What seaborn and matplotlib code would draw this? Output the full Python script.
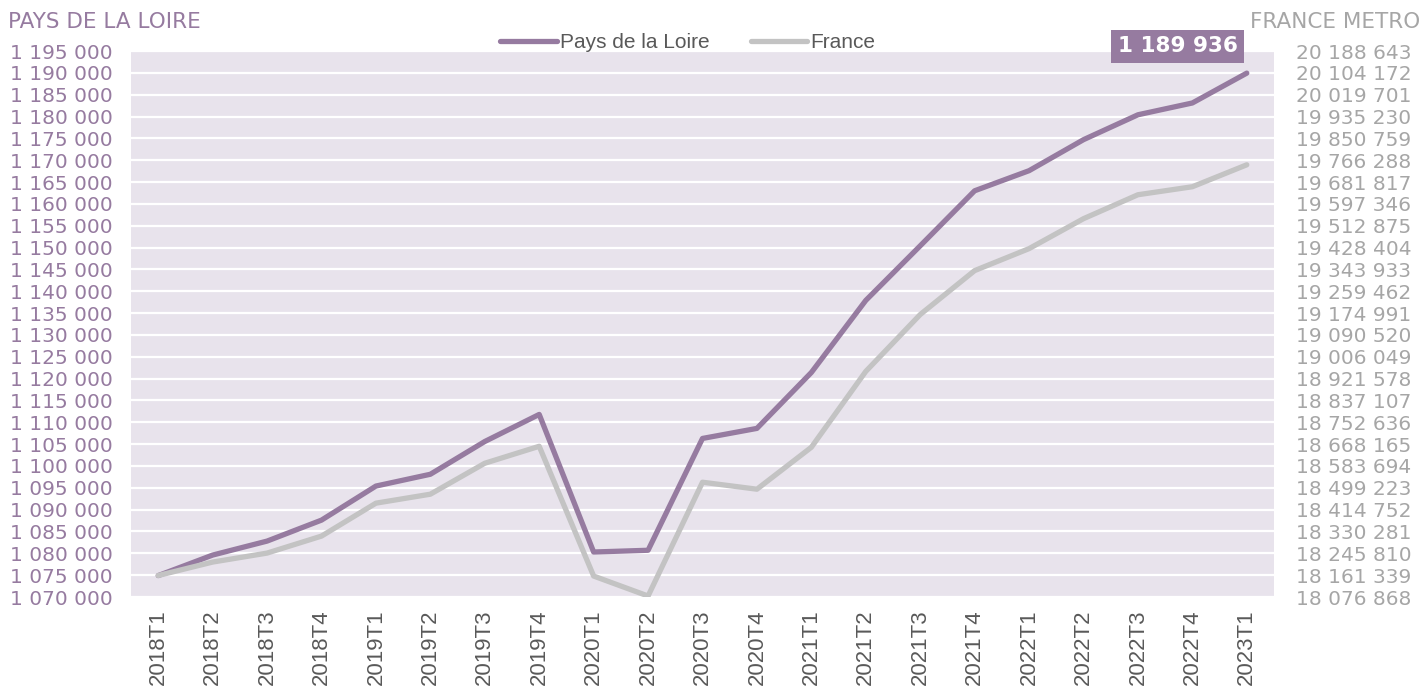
import numpy as np
import pandas as pd
import matplotlib
matplotlib.use('Agg')
import matplotlib.pyplot as plt
from matplotlib.ticker import FixedLocator, FuncFormatter
import seaborn as sns

# Données
periodes = ['2018T1', '2018T2', '2018T3', '2018T4',
            '2019T1', '2019T2', '2019T3', '2019T4',
            '2020T1', '2020T2', '2020T3', '2020T4',
            '2021T1', '2021T2', '2021T3', '2021T4',
            '2022T1', '2022T2', '2022T3', '2022T4',
            '2023T1']

pays_de_la_loire = [1074900, 1079600, 1082800, 1087600,
                    1095400, 1098100, 1105600, 1111800,
                    1080300, 1080700, 1106300, 1108600,
                    1121400, 1137900, 1150400, 1163000,
                    1167600, 1174700, 1180400, 1183100,
                    1189936]

france = [18160000, 18212000, 18246700, 18312400,
          18439800, 18474500, 18594200, 18659800,
          18157900, 18080700, 18520800, 18493800,
          18656000, 18949400, 19169400, 19339300,
          19424300, 19540100, 19632700, 19663600,
          19748500]

gauche_min, gauche_max, gauche_pas = 1070000, 1195000, 5000
droite_min, droite_pas = 18076868, 84471

VIOLET = '#967BA0'
GRIS = '#C3C3C3'
FOND = '#E8E3EC'

df = pd.DataFrame({'periode': periodes, 'pdl': pays_de_la_loire, 'france': france})

sns.set_theme(style='white')
plt.rcParams['font.family'] = ['DejaVu Sans']

fig = plt.figure(figsize=(14.2, 6.93), dpi=100)
ax = fig.add_axes([131 / 1420, 1 - 597 / 693, (1274 - 131) / 1420, (597 - 51) / 693])
ax.set_facecolor(FOND)

sns.lineplot(data=df, x='periode', y='pdl', sort=False, ax=ax, color=VIOLET,
             linewidth=3.8, label='Pays de la Loire', legend=False)

ax2 = ax.twinx()
sns.lineplot(data=df, x='periode', y='france', sort=False, ax=ax2, color=GRIS,
             linewidth=3.8, label='France', legend=False)

# axe gauche
ax.set_xlim(-0.5, len(periodes) - 0.5)
ax.set_ylim(gauche_min, gauche_max)
ax.yaxis.set_major_locator(FixedLocator(np.arange(gauche_min, gauche_max + 1, gauche_pas)))
ax.yaxis.set_major_formatter(FuncFormatter(lambda v, p: f'{int(v):,}'.replace(',', ' ')))
ax.grid(axis='y', color='white', linewidth=1.6)
ax.grid(axis='x', visible=False)
ax.set_axisbelow(True)
ax.tick_params(axis='y', length=0, pad=13, labelsize=14.5, labelcolor=VIOLET)
ax.tick_params(axis='x', length=0, pad=9, labelsize=16, labelcolor='#595959', rotation=90)
for lab in ax.get_xticklabels():
    lab.set_fontfamily('Liberation Sans')
ax.set_xlabel('')
ax.set_ylabel('')

# axe droit
droite_max = droite_min + 25 * droite_pas
ax2.set_ylim(droite_min, droite_max)
ax2.yaxis.set_major_locator(FixedLocator([droite_min + i * droite_pas for i in range(26)]))
ax2.yaxis.set_major_formatter(FuncFormatter(lambda v, p: f'{int(round(v)):,}'.replace(',', ' ')))
ax2.tick_params(axis='y', length=0, pad=16, labelsize=14.5, labelcolor='#A6A6A6')
ax2.set_ylabel('')

for a in (ax, ax2):
    for s in a.spines.values():
        s.set_visible(False)

# étiquette de la dernière valeur
ax.annotate(f'{pays_de_la_loire[-1]:,}'.replace(',', ' '),
            xy=(len(periodes) - 1, pays_de_la_loire[-1]),
            xytext=(-69, 27), textcoords='offset pixels',
            ha='center', va='center', fontsize=15.5, fontweight='bold', color='white',
            bbox=dict(boxstyle='square,pad=0.3', facecolor=VIOLET, edgecolor='none'),
            zorder=10)

# légende
h1, l1 = ax.get_legend_handles_labels()
h2, l2 = ax2.get_legend_handles_labels()
leg = fig.legend(h1 + h2, l1 + l2, loc='center', bbox_to_anchor=(688 / 1420, 1 - 43 / 693),
                 ncol=2, frameon=False, handlelength=2.7, handletextpad=0.15,
                 columnspacing=2.0, prop={'family': 'Liberation Sans', 'size': 15})
for t in leg.get_texts():
    t.set_color('#595959')
for ln in leg.get_lines():
    ln.set_solid_capstyle('round')

# titres des axes
fig.text(8 / 1420, 1 - 28.5 / 693, 'PAYS DE LA LOIRE', ha='left', va='baseline',
         fontsize=15.5, color=VIOLET)
fig.text(1420 / 1420, 1 - 28.5 / 693, 'FRANCE METRO', ha='right', va='baseline',
         fontsize=15.5, color='#A6A6A6')

fig.savefig('out.png', dpi=100)
